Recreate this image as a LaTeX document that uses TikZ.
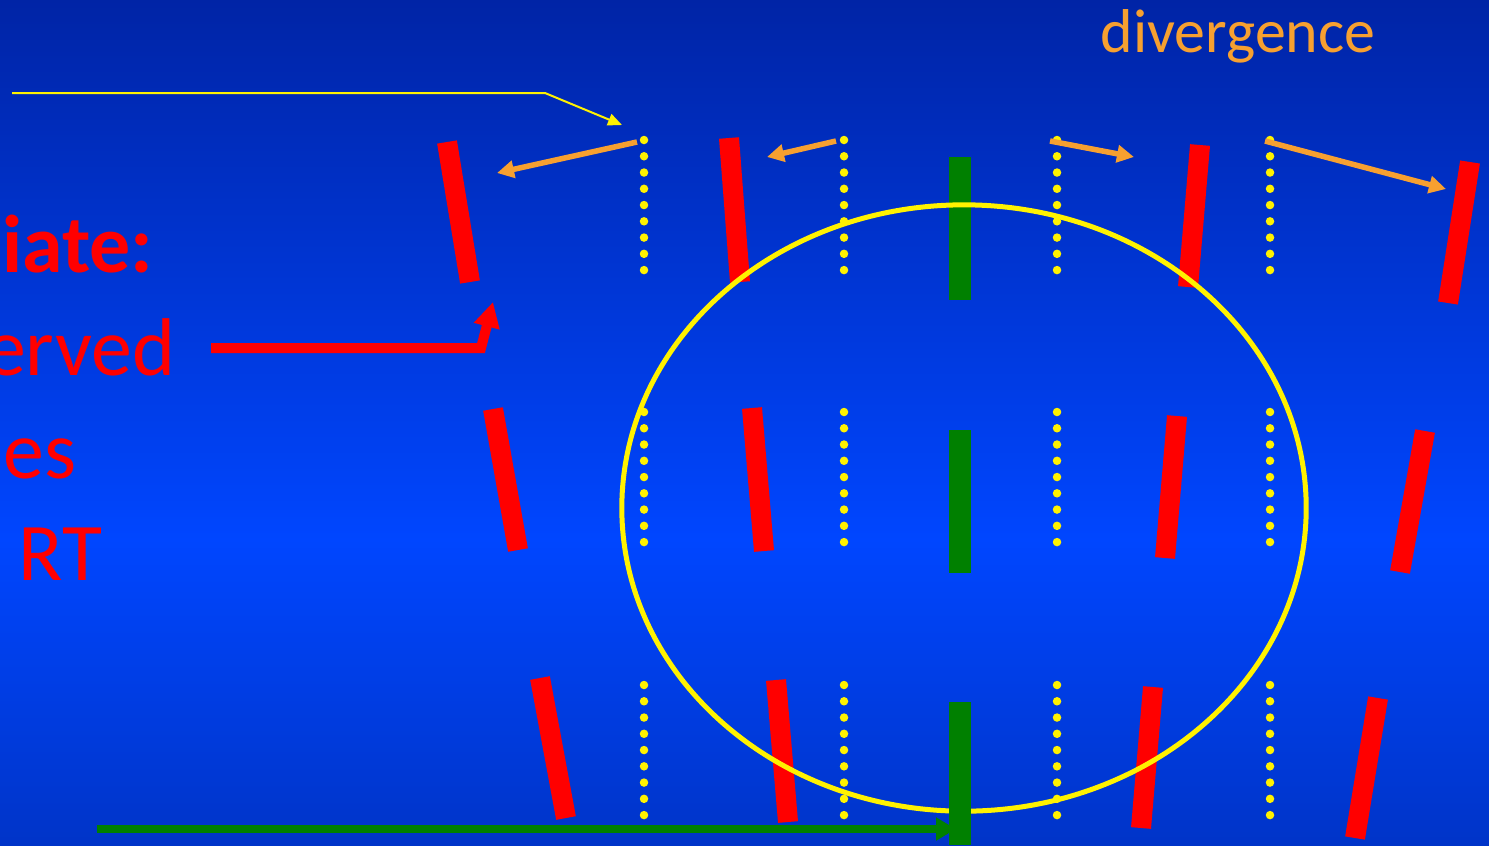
\documentclass[tikz,border=0pt]{standalone}
\usepackage{fontspec}
\setmainfont{Carlito}
\usepackage{tikz}
\usetikzlibrary{arrows.meta}
\definecolor{slidetop}{RGB}{0, 36, 166}
\definecolor{slidemid}{RGB}{0, 70, 255}
\definecolor{slidebot}{RGB}{0, 52, 200}
\definecolor{divorange}{RGB}{247, 160, 48}
\definecolor{rodgreen}{RGB}{0, 128, 0}

\begin{document}
\begin{tikzpicture}[
    x=0.01cm, y=-0.01cm,
    redbar/.style={draw=red, line width=0.2cm},
    greenbar/.style={draw=rodgreen, line width=0.22cm},
    dotcol/.style={draw=yellow, line width=0.085cm, line cap=round, dash pattern=on 0pt off 0.1625cm},
    divarrow/.style={draw=divorange, line width=0.055cm, -{Triangle[length=0.17cm, width=0.17cm]}},
    slidetext/.style={inner sep=0pt, text=red, anchor=base east, font=\fontsize{23.3}{28}\selectfont}
]

    \useasboundingbox (0,0) rectangle (1489,845);
    \shade[top color=slidetop, bottom color=slidemid] (0,0) rectangle (1489,540);
    \shade[top color=slidemid, bottom color=slidebot] (0,539) rectangle (1489,845);

    % clipped text on the left
    \node[slidetext, font=\bfseries\fontsize{23.3}{28}\selectfont] (iate) at (154,272) {iate:};
    \node[slidetext] (erved) at (176,375) {erved};
    \node[slidetext] (es) at (77,478) {es};
    \node[slidetext] (rt) at (103,580) {RT};
    \node[inner sep=0pt, anchor=base west, text=divorange, font=\fontsize{17.6}{21}\selectfont] (diverg) at (1100,52) {divergence};

    % rods
    \draw[redbar] (447,142) -- (470,282);
    \draw[redbar] (729,138) -- (740,282);
    \draw[greenbar] (960,157) -- (960,300);
    \draw[redbar] (1200,145) -- (1188,287);
    \draw[redbar] (1470,162) -- (1448,303);

    \draw[redbar] (493,409) -- (518,550);
    \draw[redbar] (752,408) -- (764,551);
    \draw[greenbar] (960,430) -- (960,573);
    \draw[redbar] (1177,416) -- (1165,558);
    \draw[redbar] (1425,431) -- (1400,572);

    \draw[redbar] (540,678) -- (566,818);
    \draw[redbar] (776,680) -- (788,822);
    \draw[redbar] (1153,687) -- (1141,828);
    \draw[redbar] (1378,698) -- (1355,838);

    % dotted columns
    \draw[dotcol] (644,140) -- (644,272);
    \draw[dotcol] (844,140) -- (844,272);
    \draw[dotcol] (1057,140) -- (1057,272);
    \draw[dotcol] (1270,140) -- (1270,272);
    \draw[dotcol] (644,412) -- (644,544);
    \draw[dotcol] (844,412) -- (844,544);
    \draw[dotcol] (1057,412) -- (1057,544);
    \draw[dotcol] (1270,412) -- (1270,544);
    \draw[dotcol] (644,685) -- (644,817);
    \draw[dotcol] (844,685) -- (844,817);
    \draw[dotcol] (1057,685) -- (1057,817);
    \draw[dotcol] (1270,685) -- (1270,817);

    \draw[yellow, line width=0.05cm] (964,508) ellipse (3.42cm and 3.03cm);
    \draw[greenbar] (960,702) -- (960,845);

    % arrows
    \coordinate (lineStart) at (12,93);
    \coordinate (lineBend) at (545,93);
    \coordinate (lineEnd) at (622,125);
    \draw[yellow, line width=0.02cm, -{Triangle[length=0.14cm, width=0.12cm]}] (lineStart) -- (lineBend) -- (lineEnd);

    \coordinate (redStart) at (211,348);
    \coordinate (redBend) at (481,348);
    \coordinate (redEnd) at (493,302);
    \draw[red, line width=0.1cm, -{Triangle[length=0.25cm, width=0.25cm]}] (redStart) -- (redBend) -- (redEnd);

    \coordinate (greenStart) at (97,829);
    \coordinate (greenEnd) at (956,829);
    \draw[rodgreen, line width=0.08cm, -{Triangle[length=0.2cm, width=0.22cm]}] (greenStart) -- (greenEnd);

    \coordinate (d1s) at (637,142);
    \coordinate (d1e) at (497,173);
    \coordinate (d2s) at (836,141);
    \coordinate (d2e) at (767,157);
    \coordinate (d3s) at (1050,141);
    \coordinate (d3e) at (1134,157);
    \coordinate (d4s) at (1265,141);
    \coordinate (d4e) at (1446,189);
    \draw[divarrow] (d1s) -- (d1e);
    \draw[divarrow] (d2s) -- (d2e);
    \draw[divarrow] (d3s) -- (d3e);
    \draw[divarrow] (d4s) -- (d4e);

\end{tikzpicture}
\end{document}
